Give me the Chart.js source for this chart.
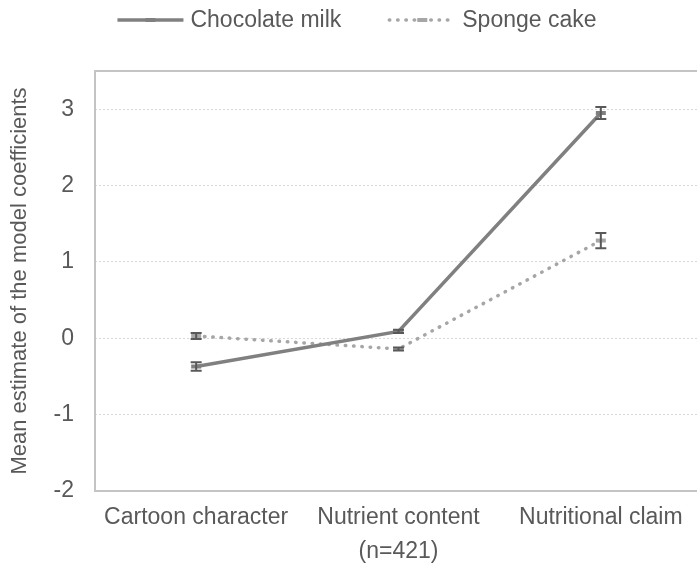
<!DOCTYPE html>
<html>
<head>
<meta charset="utf-8">
<script src="https://cdn.jsdelivr.net/npm/chart.js@4/dist/chart.umd.min.js"></script>
<style>
  html, body { margin: 0; padding: 0; background: #fff; overflow: hidden; width: 697px; height: 573px; }
  #wrap { position: relative; width: 711px; height: 573px; }
</style>
</head>
<body>
<div id="wrap"><canvas id="c" width="711" height="573"></canvas></div>
<script>
// Attribute levels on the x axis
const categories = ['Cartoon character', ['Nutrient content', '(n=421)'], 'Nutritional claim'];

// Mean estimates and their error half-widths per product
const chocolateMilk = [-0.37, 0.09, 2.95];
const chocolateMilkErr = [0.055, 0.02, 0.08];
const spongeCake = [0.03, -0.14, 1.28];
const spongeCakeErr = [0.04, 0.02, 0.10];

// Labelled ticks of the value axis
const yTicks = [-2, -1, 0, 1, 2, 3];

const TEXT = '#595959';
const FONT = 'Liberation Sans';

// Vertical error bars with caps, drawn on top of the lines
const errorBars = {
  id: 'errorBars',
  afterDatasetsDraw(chart) {
    const ctx = chart.ctx;
    const y = chart.scales.y;
    ctx.save();
    ctx.strokeStyle = '#595959';
    ctx.lineWidth = 2;
    ctx.setLineDash([]);
    chart.data.datasets.forEach((ds, i) => {
      const meta = chart.getDatasetMeta(i);
      ds.data.forEach((v, j) => {
        const e = ds.errors[j];
        const px = meta.data[j].x;
        const top = y.getPixelForValue(v + e);
        const bot = y.getPixelForValue(v - e);
        ctx.beginPath();
        ctx.moveTo(px, top); ctx.lineTo(px, bot);
        ctx.moveTo(px - 5.5, top); ctx.lineTo(px + 5.5, top);
        ctx.moveTo(px - 5.5, bot); ctx.lineTo(px + 5.5, bot);
        ctx.stroke();
      });
    });
    ctx.restore();
  }
};

// Frame around the plot area
const plotFrame = {
  id: 'plotFrame',
  beforeDatasetsDraw(chart) {
    const { ctx, chartArea: a } = chart;
    ctx.save();
    ctx.strokeStyle = '#c4c4c4';
    ctx.lineWidth = 2;
    ctx.strokeRect(a.left, a.top, a.right - a.left, a.bottom - a.top);
    ctx.restore();
  }
};

// Legend with line samples and centred markers
const lineLegend = {
  id: 'lineLegend',
  afterDraw(chart) {
    const ctx = chart.ctx;
    const sample = 66, gap = 7, between = 48, cy = 20, cx = 357;
    ctx.save();
    ctx.font = '23px "' + FONT + '"';
    ctx.textBaseline = 'middle';
    ctx.textAlign = 'left';
    const items = chart.data.datasets.map(ds => ({ ds, w: sample + gap + ctx.measureText(ds.label).width }));
    const total = items.reduce((s, it) => s + it.w, 0) + between * (items.length - 1);
    let x = cx - total / 2;
    items.forEach(({ ds, w }) => {
      ctx.strokeStyle = ds.borderColor;
      ctx.lineWidth = ds.borderWidth;
      ctx.lineCap = ds.borderCapStyle || 'butt';
      ctx.setLineDash(ds.borderDash || []);
      ctx.beginPath();
      ctx.moveTo(x, cy); ctx.lineTo(x + sample, cy);
      ctx.stroke();
      ctx.setLineDash([]);
      ctx.lineCap = 'butt';
      ctx.lineWidth = ds.pointBorderWidth;
      ctx.strokeStyle = ds.pointBorderColor;
      ctx.beginPath();
      ctx.moveTo(x + sample / 2 - ds.pointRadius, cy); ctx.lineTo(x + sample / 2 + ds.pointRadius, cy);
      ctx.stroke();
      ctx.fillStyle = TEXT;
      ctx.fillText(ds.label, x + sample + gap, cy + 1);
      x += w + between;
    });
    ctx.restore();
  }
};

new Chart(document.getElementById('c'), {
  type: 'line',
  data: {
    labels: categories,
    datasets: [
      {
        label: 'Chocolate milk',
        data: chocolateMilk,
        errors: chocolateMilkErr,
        borderColor: '#808080',
        borderWidth: 3.5,
        borderCapStyle: 'butt',
        pointStyle: 'line',
        pointRadius: 5,
        pointBorderWidth: 4,
        pointBorderColor: '#808080',
        pointBackgroundColor: '#808080',
        tension: 0,
        fill: false
      },
      {
        label: 'Sponge cake',
        data: spongeCake,
        errors: spongeCakeErr,
        borderColor: '#a6a6a6',
        borderWidth: 3.5,
        borderDash: [0.5, 7.8],
        borderCapStyle: 'round',
        pointStyle: 'line',
        pointRadius: 5,
        pointBorderWidth: 4,
        pointBorderColor: '#a6a6a6',
        pointBackgroundColor: '#a6a6a6',
        tension: 0,
        fill: false
      }
    ]
  },
  options: {
    responsive: false,
    animation: false,
    devicePixelRatio: 1,
    layout: { padding: { top: 71, right: 2, left: 0, bottom: 0 } },
    plugins: {
      legend: { display: false },
      tooltip: { enabled: false }
    },
    scales: {
      x: {
        type: 'category',
        offset: true,
        grid: { display: false, drawTicks: false },
        border: { display: false },
        ticks: {
          color: TEXT,
          font: { family: FONT, size: 23, lineHeight: 1.5 },
          padding: 9,
          maxRotation: 0,
          autoSkip: false
        },
        afterFit(s) { s.height = 82; }
      },
      y: {
        min: -2,
        max: 3.5,
        afterBuildTicks(s) { s.ticks = yTicks.map(v => ({ value: v })); },
        grid: { color: '#d9d9d9', lineWidth: 1, drawTicks: false },
        border: { display: false, dash: [2, 2] },
        ticks: {
          color: TEXT,
          font: { family: FONT, size: 23 },
          padding: 21
        },
        title: {
          display: true,
          text: 'Mean estimate of the model coefficients',
          color: TEXT,
          font: { family: FONT, size: 22 },
          padding: { top: 7, bottom: 0 }
        },
        afterFit(s) { s.width = 95; }
      }
    }
  },
  plugins: [plotFrame, errorBars, lineLegend]
});
</script>
</body>
</html>
